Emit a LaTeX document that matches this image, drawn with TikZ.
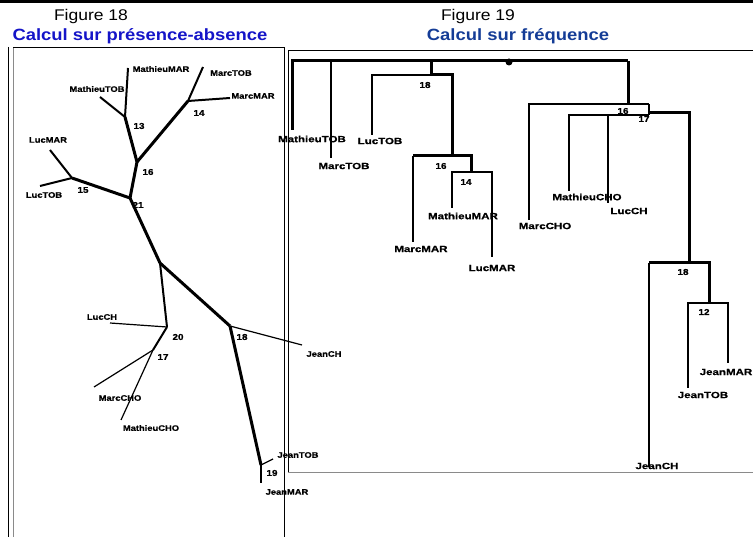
\documentclass[tikz,border=0pt]{standalone}
\usepackage{fontspec}
\setmainfont{Liberation Sans}
\newfontfamily\titlefont[FakeStretch=1.13]{Liberation Sans}
\newfontfamily\leftlbl[FakeStretch=1.17,FakeBold=0.8]{Liberation Sans}
\newfontfamily\rightlbl[FakeStretch=1.28,FakeBold=0.8]{Liberation Sans}
\definecolor{bleu}{HTML}{1414C8}
\definecolor{marine}{HTML}{143C96}
\definecolor{gris}{HTML}{8A8A8A}

\begin{document}
\begin{tikzpicture}[x=1pt,y=-1pt,line join=miter,
    br1/.style={line width=1.2pt},
    br2/.style={line width=2pt},
    br3/.style={line width=3pt},
    lf/.style={font=\leftlbl\bfseries\fontsize{8}{8}\selectfont,inner sep=0pt},
    rf/.style={font=\rightlbl\bfseries\fontsize{9}{9}\selectfont,inner sep=0pt},
    num/.style={font=\leftlbl\bfseries\fontsize{8.5}{8}\selectfont,inner sep=0pt}]
  \useasboundingbox (0,0) rectangle (753,537);
  \clip (0,0) rectangle (753,537);

  % cadres
  \fill (0,0) rectangle (753,3.5);
  \draw[line width=1pt] (8,47) -- (8,537);
  \draw[gris,line width=1.6pt] (13.5,47) -- (13.5,537);
  \draw[line width=0.8pt] (13,47) -- (284,47) -- (284,537);
  \draw[line width=1pt] (288,472) -- (288,50.5) -- (753,50.5);
  \draw[gris,line width=1pt] (288,472) -- (753,472);

  % titres
  \node[anchor=base,font=\titlefont\fontsize{15.5}{16}\selectfont] (fig18) at (91,21) {Figure 18};
  \node[anchor=base,bleu,font=\titlefont\bfseries\fontsize{16.3}{17}\selectfont] (tit18) at (140,41) {Calcul sur présence-absence};
  \node[anchor=base,font=\titlefont\fontsize{15.5}{16}\selectfont] (fig19) at (478,21) {Figure 19};
  \node[anchor=base,marine,font=\titlefont\bfseries\fontsize{16.3}{17}\selectfont] (tit19) at (518,41) {Calcul sur fréquence};

  % Figure 18 : arbre non raciné
  \coordinate (pMM) at (128,68);
  \coordinate (pMT) at (100,97);
  \coordinate (p13) at (125,117);
  \coordinate (pMcT) at (203,67);
  \coordinate (pMcM) at (230,98);
  \coordinate (p14) at (188,101);
  \coordinate (p16) at (137,162);
  \coordinate (pLM) at (50,150);
  \coordinate (pLT) at (40,186);
  \coordinate (p15) at (72,178);
  \coordinate (p21) at (130,198);
  \coordinate (pJ) at (160,263);
  \coordinate (p20) at (167,327);
  \coordinate (pLC) at (110,323);
  \coordinate (p17) at (153,350);
  \coordinate (pMcC) at (94,387);
  \coordinate (pMC) at (121,420);
  \coordinate (p18) at (230,326);
  \coordinate (pJC) at (302,345);
  \coordinate (p19) at (261,465);
  \coordinate (pJT) at (273,459);
  \coordinate (pJM) at (261,483);

  \draw[br2] (pMM) -- (p13);
  \draw[br2] (pMT) -- (p13);
  \draw[br3] (p13) -- (p16);
  \draw[br2] (pMcT) -- (p14);
  \draw[br2] (pMcM) -- (p14);
  \draw[br3] (p14) -- (p16);
  \draw[br3] (p16) -- (p21);
  \draw[br2] (pLM) -- (p15);
  \draw[br2] (pLT) -- (p15);
  \draw[br3] (p15) -- (p21);
  \draw[br3] (p21) -- (pJ);
  \draw[br2] (pJ) -- (p20);
  \draw[br3] (pJ) -- (p18);
  \draw[br1] (pLC) -- (p20);
  \draw[br2] (p20) -- (p17);
  \draw[br1] (p17) -- (pMcC);
  \draw[br1] (p17) -- (pMC);
  \draw[br1] (p18) -- (pJC);
  \draw[br3] (p18) -- (p19);
  \draw[br1] (p19) -- (pJT);
  \draw[br2] (p19) -- (pJM);

  \node[lf] (lpMM) at (161,69) {MathieuMAR};
  \node[lf] (lpMT) at (97,89) {MathieuTOB};
  \node[lf] (lpMcT) at (231,73) {MarcTOB};
  \node[lf] (lpMcM) at (253,96) {MarcMAR};
  \node[lf] (lpLM) at (48,140) {LucMAR};
  \node[lf] (lpLT) at (44,195) {LucTOB};
  \node[lf] (lpLC) at (102,317) {LucCH};
  \node[lf] (lpMcC) at (120,398) {MarcCHO};
  \node[lf] (lpMC) at (151,428) {MathieuCHO};
  \node[lf] (lpJC) at (324,354) {JeanCH};
  \node[lf] (lpJT) at (298,455) {JeanTOB};
  \node[lf] (lpJM) at (287,492) {JeanMAR};

  \node[num] (np13) at (139,126) {13};
  \node[num] (np14) at (199,113) {14};
  \node[num] (np16) at (148,172) {16};
  \node[num] (np15) at (83,190) {15};
  \node[num] (np21) at (138,205) {21};
  \node[num] (np20) at (178,337) {20};
  \node[num] (np17) at (163,357) {17};
  \node[num] (np18) at (242,337) {18};
  \node[num] (np19) at (272,473) {19};

  % Figure 19 : dendrogramme
  \coordinate (fTop) at (628,61);
  \coordinate (fMT) at (292,130);
  \coordinate (fMcT) at (331,158);
  \coordinate (f18) at (431,75);
  \coordinate (fLT) at (372,135);
  \coordinate (f16) at (452,156);
  \coordinate (fMcM) at (413,242);
  \coordinate (f14) at (471,172);
  \coordinate (fMM) at (452,208);
  \coordinate (fLM) at (492,257);
  \coordinate (fA) at (628,104);
  \coordinate (fB) at (649,104);
  \coordinate (fMcC) at (529,220);
  \coordinate (fC) at (649,115);
  \coordinate (fMC) at (569,191);
  \coordinate (fLC) at (608,203);
  \coordinate (fD) at (649,113);
  \coordinate (fE) at (689,263);
  \coordinate (fJC) at (649,467);
  \coordinate (fF) at (709,303);
  \coordinate (fJT) at (688,388);
  \coordinate (fJM) at (728,363);

  \draw[br3] (fMT) |- (fTop);
  \draw[br2] (fMcT) -- (fMcT |- fTop);
  \draw[br3] (f18 |- fTop) -- (f18) -- (f16 |- f18) -- (f16);
  \draw[br1] (fLT) |- (f18);
  \draw[br2] (fMcM) -- (fMcM |- f16);
  \draw[br3] (fMcM |- f16) -- (f14 |- f16) -- (f14);
  \draw[br1] (fMM) |- (f14) -| (fLM);
  \draw[br3] (fTop) -- (fA);
  \draw[br2] (fMcC) |- (fB);
  \draw[br2] (fB) -- (fC);
  \draw[br1] (fMC) |- (fC);
  \draw[br1] (fLC) -- (fLC |- fC);
  \draw[br3] (fD) -| (fE);
  \draw[br1] (fJC) -- (fJC |- fE);
  \draw[br3] (fJC |- fE) -- (fF |- fE) -- (fF);
  \draw[br2] (fJT) |- (fF) -| (fJM);
  \node[circle,fill,inner sep=0pt,minimum size=7pt] (fRoot) at (509,62) {};

  \node[rf] (lfMT) at (312,139) {MathieuTOB};
  \node[rf] (lfMcT) at (344,166) {MarcTOB};
  \node[rf] (lfLT) at (380,141) {LucTOB};
  \node[rf] (lfMcM) at (421,249) {MarcMAR};
  \node[rf] (lfMM) at (463,216) {MathieuMAR};
  \node[rf] (lfLM) at (492,268) {LucMAR};
  \node[rf] (lfMcC) at (545,226) {MarcCHO};
  \node[rf] (lfMC) at (587,197) {MathieuCHO};
  \node[rf] (lfLC) at (629,211) {LucCH};
  \node[rf] (lfJC) at (657,466) {JeanCH};
  \node[rf] (lfJT) at (703,395) {JeanTOB};
  \node[rf] (lfJM) at (726,372) {JeanMAR};

  \node[num] (nf18) at (425,85) {18};
  \node[num] (nf16) at (441,166) {16};
  \node[num] (nf14) at (466,182) {14};
  \node[num] (nf16b) at (623,111) {16};
  \node[num] (nf17) at (644,119) {17};
  \node[num] (nf18b) at (683,272) {18};
  \node[num] (nf12) at (704,312) {12};
\end{tikzpicture}
\end{document}
